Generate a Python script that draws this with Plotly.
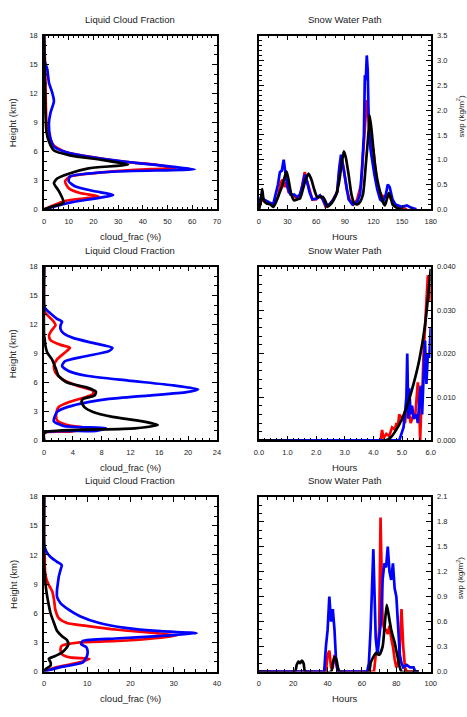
import plotly.graph_objects as go

W, H = 467, 717

# ---------------- data ----------------
# Panel 1: Liquid Cloud Fraction (x: cloud_frac %, y: height km)
p1_black_h = [0,0.27,0.7,1.9,2.7,3.2,3.7,4.25,4.65,5.1,5.6,6.1,7,8,9,12,15,18]
p1_black_f = [0,3,7.9,6,4,5.3,10,18,34,24,10.5,4,2,1,0.7,0.4,0.2,0]
p1_red_h = [0,0.85,1.35,1.7,2.2,2.9,3.4,3.7,4.1,4.3,4.6,4.9,5.4,5.95,6.6,7.6,9,11,14.5,15.8,18]
p1_red_f = [0,8,22,14.5,10,8.5,10.5,18,37,53,46,34,20,8.5,4,2,1,0.7,0.5,0.3,0]
p1_blue_h = [0,0.7,1.5,1.9,2.4,2.9,3.4,3.9,4.15,4.4,4.8,5.3,5.8,6.5,7.6,9,10,11.2,12.1,13.1,14.5,15.3,16.2,18]
p1_blue_f = [0,10.5,28,20,12.5,10,10.5,27.6,61,52.6,38,22,10.5,4,2.4,2,2.6,4,3.3,2,1.3,0.3,0,0]

# Panel 2: Snow Water Path (x: hours, y: swp)
p2_black_t = [0,2,3.4,5,8,12,15,18,21,24,27,29,31,34,37,40,43,46,49,52,55,58,61,64,67,70,72,75,78,81,84,87,89,91,94,97,100,103,106,109,112,115,116,118,121,124,127,130,132,134,136,138,140,143,146,150]
p2_black_v = [0,0.15,0.41,0.2,0.12,0.1,0.05,0.15,0.3,0.45,0.65,0.76,0.6,0.3,0.18,0.2,0.22,0.4,0.6,0.72,0.6,0.4,0.25,0.25,0.25,0.15,0.05,0.1,0.18,0.3,0.55,0.95,1.17,1.05,0.7,0.3,0.12,0.1,0.15,0.3,0.9,1.6,1.9,1.6,1.0,0.6,0.35,0.15,0.08,0.2,0.33,0.25,0.1,0.05,0.02,0.0]
p2_red_t = [0,3,6,10,15,20,23,25,27,29,31,34,37,40,43,46,48,50,53,56,60,64,67,70,74,78,82,85,87,89,92,95,99,103,107,109,111,113,114,116,118,120,122,125,128,131,134,137,140,145,150,155]
p2_red_v = [0.05,0.2,0.15,0.12,0.1,0.25,0.55,0.6,0.45,0.55,0.35,0.3,0.25,0.22,0.25,0.55,0.75,0.6,0.4,0.2,0.2,0.28,0.2,0.05,0.1,0.2,0.35,0.9,1.0,0.8,0.4,0.2,0.1,0.2,0.5,1.1,1.6,2.2,2.0,1.7,1.2,1.2,0.8,0.4,0.3,0.25,0.3,0.25,0.15,0.05,0.03,0.0]
p2_blue_t = [0,2,5,10,15,20,22,24,26,28,30,33,37,40,43,46,48,50,53,56,60,64,67,70,74,78,82,84,86,88,91,94,98,103,106,108,110,111,112,113,114,115,117,119,121,124,127,130,133,135,137,140,143,146,150,155,160,165]
p2_blue_v = [0,0.25,0.2,0.15,0.1,0.5,0.75,0.78,1.0,0.7,0.45,0.3,0.3,0.25,0.3,0.5,0.7,0.6,0.35,0.2,0.22,0.28,0.2,0.08,0.1,0.2,0.35,0.8,1.1,0.9,0.5,0.2,0.1,0.15,0.3,0.8,1.5,2.7,2.6,3.1,2.8,1.8,1.2,0.9,0.7,0.4,0.2,0.15,0.3,0.5,0.45,0.2,0.1,0.08,0.05,0.08,0.03,0.0]

# Panel 3: Liquid Cloud Fraction
p3_black_h = [0,0.7,0.92,1.26,1.6,2.0,2.45,2.95,3.45,4.0,4.3,4.65,5.05,5.5,6.0,6.7,7.5,8.4,9.1,9.75,10.4,11,18]
p3_black_f = [0,0,0.5,12.6,15.8,13.5,9.5,6.8,5.6,5.2,5.4,7,7.2,5.9,3.2,2,1.6,1.1,0.45,0.2,0.1,0,0]
p3_red_h = [0,0.8,0.92,1.26,1.6,2.1,2.8,3.45,4.0,4.4,4.8,5.15,5.7,6.35,7.0,7.7,8.4,9.1,9.6,9.9,10.4,10.9,11.45,11.95,12.3,12.8,13.3,14,18]
p3_red_f = [0,0,3.6,6.3,3.2,1.8,1.7,2,3.6,5.4,6.8,6.8,4.5,2.5,1.6,1.35,1.8,2.9,3.6,2.3,0.9,0.7,1.1,1.6,1.35,0.7,0.1,0,0]
p3_blue_h = [0,0.8,1.0,1.26,1.5,2.0,2.95,3.45,4.0,4.3,4.65,5.0,5.3,5.7,6.2,6.7,7.2,7.7,8.2,8.7,9.25,9.6,10.1,10.6,11.1,11.5,11.95,12.3,12.6,13.15,13.65,14.0,18]
p3_blue_f = [0,0,7.2,8.6,2.7,1.35,1.8,3.2,6.3,9,14.4,19.8,21.4,18,11.7,5.9,3.4,2.5,2.9,5.6,9,9.5,6.8,4.1,2.7,2.3,2.3,2.5,1.8,0.9,0.2,0,0]

# Panel 4: Snow Water Path
p4_black_t = [0,4.4,4.6,4.8,5.0,5.2,5.4,5.6,5.8,6.0]
p4_black_v = [0,0,0.0007,0.0025,0.005,0.0085,0.013,0.0185,0.0265,0.0395]
p4_red_t = [0,4.25,4.3,4.35,4.45,4.55,4.65,4.75,4.8,4.85,4.9,5.0,5.1,5.15,5.25,5.3,5.4,5.45,5.5,5.55,5.6,5.63,5.66,5.7,5.75,5.8,5.85,5.9,5.95,6.0]
p4_red_v = [0,0,0.0024,0.0005,0.0015,0.001,0.003,0.0025,0.004,0.003,0.006,0.005,0.004,0.007,0.006,0.004,0.006,0.005,0.01,0.0134,0.008,0.0,0.006,0.01,0.02,0.026,0.03,0.038,0.032,0.036]
p4_blue_t = [0,4.9,4.95,5.05,5.1,5.15,5.18,5.22,5.25,5.3,5.35,5.4,5.5,5.55,5.6,5.65,5.7,5.75,5.8,5.85,5.9,5.95,6.0]
p4_blue_v = [0,0,0.001,0.003,0.006,0.01,0.02,0.005,0.012,0.006,0.008,0.005,0.006,0.004,0.009,0.0126,0.006,0.015,0.023,0.013,0.02,0.019,0.026]

# Panel 5: Liquid Cloud Fraction
p5_black_h = [0,0.27,0.6,0.95,1.3,1.6,1.95,2.5,2.8,3.25,3.65,4.2,5.0,6.0,7.05,8.1,9.1,9.9,11,18]
p5_black_f = [0,0.4,1.5,1.5,1.1,2.6,4.1,5.3,5.6,5.3,4.1,3,2.3,1.5,1,0.6,0.3,0.15,0,0]
p5_red_h = [0,0.45,0.95,1.3,1.45,1.8,2.3,2.65,3.0,3.15,3.35,3.7,3.95,4.3,4.7,5.0,5.5,6.4,7.4,8.25,8.9,9.6,10.45,11.8,12.8,18]
p5_red_f = [0,3,8.3,10.5,6,4.1,3.8,4.1,8.3,17,24,30.8,26,17,9.8,5.3,3.4,2.6,2.3,1.9,1.1,0.5,0.2,0.15,0,0]
p5_blue_h = [0,0.45,0.95,1.45,1.95,2.5,2.8,3.15,3.4,3.65,3.95,4.15,4.5,5.0,5.7,6.4,7.05,7.7,8.4,9.1,9.75,10.45,10.95,11.3,11.8,12.3,12.8,13.15,18]
p5_blue_f = [0,3.8,9,9.8,10.1,9.8,8.6,9,16.5,26.3,35.3,27,18.8,12.8,8.3,5.6,3.8,3,3,3.2,3.4,3.8,4.1,3,1.5,0.6,0.15,0,0]

# Panel 6: Snow Water Path
p6_black_t = [0,21,22,23,24,25,26,27,42,43,44,45,46,47,64,65,66,68,70,72,73,74.4,76,77,78,79,80,81,82,83,93]
p6_black_v = [0,0,0.08,0.12,0.1,0.13,0.1,0,0,0.1,0.17,0.15,0.05,0,0,0.1,0.15,0.22,0.2,0.3,0.5,0.8,0.62,0.5,0.42,0.35,0.25,0.15,0.05,0,0]
p6_red_t = [0,39,40,41,42,43,44,45,46,67,68,69,70,70.8,72,73,74,75,76,77,78,79,80,81,82,83,84,85,86,93]
p6_red_v = [0,0,0.2,0.25,0.05,0.05,0.2,0.1,0,0,0.2,0.25,0.5,1.85,0.6,0.5,0.5,0.45,0.55,0.4,0.3,0.15,0.05,0.1,0.3,0.75,0.3,0.05,0,0]
p6_blue_t = [0,38,39,40,41,42,43,44,45,46,63,64,65,66,66.6,68,69,70,71,72,73,74,75,76,77,78,79,80,81,82,83,84,86,88,90,91,93]
p6_blue_v = [0,0,0.3,0.5,0.9,0.6,0.75,0.5,0.1,0,0,0.1,0.5,1.0,1.47,0.4,0.2,0.4,0.6,1.1,1.3,1.25,1.5,1.2,1.1,1.3,1.0,0.9,0.5,0.2,0.1,0.05,0.08,0.05,0.05,0,0]

left_title = "Liquid Cloud Fraction"
right_title = "Snow Water Path"
left_xlabel = "cloud_frac (%)"
left_ylabel = "Height (km)"
right_xlabel = "Hours"
right_ylabel = "swp (kg/m<sup>2</sup>)"

# ---------------- layout geometry (pixels) ----------------
LX = (40, 217)
RX = (260, 436)
ROWS = [(32, 208), (266, 442), (499, 676)]

FONT = "Liberation Sans, Arial, Helvetica, sans-serif"
TXT = "#222222"

fig = go.Figure()

def xd(a, b):
    return [a / W, b / W]

def yd(a, b):
    return [1 - b / H, 1 - a / H]

def axis_common(rng, dtick, minor, fmt=None):
    d = dict(range=rng, dtick=dtick, tick0=0, ticks="inside", ticklen=5, tickwidth=1,
             tickcolor="black", mirror="allticks", showline=True, linewidth=1.6,
             linecolor="black", showgrid=False, zeroline=False,
             tickfont=dict(family=FONT, size=7.5, color=TXT),
             minor=dict(ticks="inside", dtick=minor, tick0=0, ticklen=3, tickwidth=1,
                        tickcolor="black", showgrid=False))
    if fmt:
        d["tickformat"] = fmt
    return d

panels = [
    (0, 0, [(p1_red_f, p1_red_h, "red"), (p1_blue_f, p1_blue_h, "blue"), (p1_black_f, p1_black_h, "black")],
     [0, 70], 10, 2, None, [0, 18], 3, 1, None, True),
    (0, 1, [(p2_red_t, p2_red_v, "red"), (p2_blue_t, p2_blue_v, "blue"), (p2_black_t, p2_black_v, "black")],
     [0, 180], 30, 10, None, [0, 3.5], 0.5, 0.1, ".1f", False),
    (1, 0, [(p3_red_f, p3_red_h, "red"), (p3_blue_f, p3_blue_h, "blue"), (p3_black_f, p3_black_h, "black")],
     [0, 24], 4, 1, None, [0, 18], 3, 1, None, True),
    (1, 1, [(p4_red_t, p4_red_v, "red"), (p4_blue_t, p4_blue_v, "blue"), (p4_black_t, p4_black_v, "black")],
     [0, 6], 1, 0.2, ".1f", [0, 0.04], 0.01, 0.002, ".3f", False),
    (2, 0, [(p5_red_f, p5_red_h, "red"), (p5_blue_f, p5_blue_h, "blue"), (p5_black_f, p5_black_h, "black")],
     [0, 40], 10, 2.5, None, [0, 18], 3, 1, None, True),
    (2, 1, [(p6_red_t, p6_red_v, "red"), (p6_blue_t, p6_blue_v, "blue"), (p6_black_t, p6_black_v, "black")],
     [0, 100], 20, 5, None, [0, 2.1], 0.3, 0.1, ".1f", False),
]

layout = {}
annotations = []
for i, (r, c, series, xr, xdt, xmn, xf, yr, ydt, ymn, yf, profile) in enumerate(panels):
    n = i + 1
    xname = "xaxis" if n == 1 else f"xaxis{n}"
    yname = "yaxis" if n == 1 else f"yaxis{n}"
    xref = "x" if n == 1 else f"x{n}"
    yref = "y" if n == 1 else f"y{n}"
    px = LX if c == 0 else RX
    py = ROWS[r]
    xa = axis_common(xr, xdt, xmn, xf)
    xa.update(domain=xd(*px), anchor=yref, ticklabelstandoff=4)
    ya = axis_common(yr, ydt, ymn, yf)
    ya.update(domain=yd(*py), anchor=xref, ticklabelstandoff=3)
    if c == 1:
        ya["side"] = "right"
    layout[xname] = xa
    layout[yname] = ya
    for xs, ys, col in series:
        if profile or col == "black":
            line = dict(color=col, width=2.7, shape="spline", smoothing=0.6)
        else:
            line = dict(color=col, width=2.7)
        fig.add_trace(go.Scatter(x=xs, y=ys, mode="lines", line=line, xaxis=xref, yaxis=yref,
                                 showlegend=False, hoverinfo="skip", cliponaxis=True))
    cx = (px[0] + px[1]) / 2
    title = left_title if c == 0 else right_title
    xlab = left_xlabel if c == 0 else right_xlabel
    annotations.append(dict(text=title, x=cx / W, y=1 - (py[0] - 16) / H, xref="paper", yref="paper",
                            showarrow=False, font=dict(family=FONT, size=9.5, color=TXT),
                            xanchor="center", yanchor="middle"))
    annotations.append(dict(text=xlab, x=cx / W, y=1 - (py[1] + 27) / H, xref="paper", yref="paper",
                            showarrow=False, font=dict(family=FONT, size=9.5, color=TXT),
                            xanchor="center", yanchor="middle"))
    cy = (py[0] + py[1]) / 2
    if c == 0:
        annotations.append(dict(text=left_ylabel, x=8 / W, y=1 - cy / H, xref="paper", yref="paper",
                                showarrow=False, textangle=-90, font=dict(family=FONT, size=9.5, color=TXT),
                                xanchor="center", yanchor="middle"))
    elif r != 1:
        # right-hand label sits at the page edge, as in the reference
        annotations.append(dict(text=right_ylabel, x=466 / W, y=1 - (cy - 6) / H, xref="paper", yref="paper",
                                showarrow=False, textangle=-90, font=dict(family=FONT, size=8, color=TXT),
                                xanchor="center", yanchor="middle"))

fig.update_layout(width=W, height=H, margin=dict(l=0, r=0, t=0, b=0),
                  paper_bgcolor="white", plot_bgcolor="white", showlegend=False,
                  annotations=annotations, **layout)

fig.write_html("out.html")
